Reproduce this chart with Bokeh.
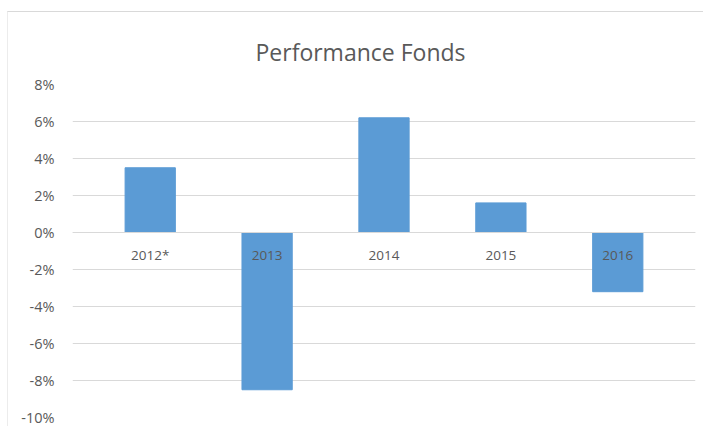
from bokeh.plotting import figure
from bokeh.models import FactorRange, Range1d, CategoricalAxis, LinearAxis, FixedTicker, ColumnDataSource, CustomJSTickFormatter
from bokeh.embed import file_html
from bokeh.resources import INLINE

years = ["2012*", "2013", "2014", "2015", "2016"]
performance = [3.5, -8.5, 6.2, 1.6, -3.2]
y_ticks = [-10, -8, -6, -4, -2, 0, 2, 4, 6, 8]

FONT = "Open Sans"
GRAY = "#595959"

source = ColumnDataSource(data=dict(year=years, perf=performance))

p = figure(
    width=696, height=415,
    x_range=FactorRange(factors=years, range_padding=0.165, range_padding_units="absolute"),
    y_range=Range1d(-10, 8),
    output_backend="svg", toolbar_location=None,
    x_axis_location=None, y_axis_location=None,
    min_border_left=64, min_border_right=9, min_border_top=72, min_border_bottom=10,
)
p.outline_line_color = None
p.xgrid.grid_line_color = None
p.ygrid.grid_line_color = "#d9d9d9"
p.ygrid.grid_line_width = 1
p.ygrid.ticker = FixedTicker(ticks=y_ticks)

p.vbar(x="year", top="perf", bottom=0, width=0.43, color="#5B9BD5", source=source)

yax = LinearAxis(ticker=FixedTicker(ticks=y_ticks),
                 formatter=CustomJSTickFormatter(code="return tick.toFixed(0) + '%';"))
yax.axis_line_color = None
yax.major_tick_line_color = None
yax.minor_tick_line_color = None
yax.major_label_text_font = FONT
yax.major_label_text_font_size = "14.5px"
yax.major_label_text_color = GRAY
yax.major_label_standoff = 12
p.add_layout(yax, "left")

xax = CategoricalAxis(fixed_location=0)
xax.axis_line_color = "#d9d9d9"
xax.major_tick_line_color = None
xax.minor_tick_line_color = None
xax.major_tick_out = 0
xax.major_label_text_font = FONT
xax.major_label_text_font_size = "13.5px"
xax.major_label_text_color = GRAY
xax.major_label_standoff = 13
p.add_layout(xax, "below")

p.title.text = "Performance Fonds"
p.title.text_font = FONT
p.title.text_font_style = "normal"
p.title.text_font_size = "23px"
p.title.text_color = GRAY
p.title.align = "left"
p.title.offset = 183
p.title.standoff = 34

p.styles = {"border-top": "1px solid #d9d9d9", "border-left": "1px solid #ececec",
            "margin-top": "11px", "margin-left": "7px"}

open("out.html", "w").write(file_html(p, INLINE))
